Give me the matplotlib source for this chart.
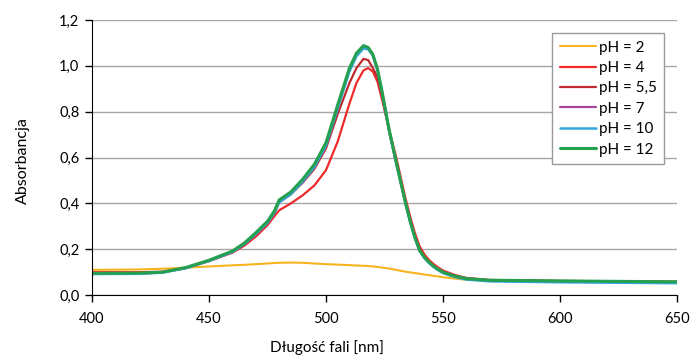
import matplotlib
matplotlib.use("Agg")
import matplotlib.pyplot as plt
from matplotlib.ticker import FuncFormatter

plt.rcParams['font.family'] = ['Lato', 'DejaVu Sans']

wavelength = [400, 420, 430, 440, 450, 460, 465, 470, 475, 478, 480, 485, 490, 495,
              500, 505, 510, 513, 516, 518, 520, 522, 524, 527, 530, 532, 534, 536,
              538, 540, 542, 544, 546, 548, 550, 555, 560, 570, 600, 650]

ph2 = [0.110, 0.112, 0.115, 0.120, 0.125, 0.130, 0.132, 0.135, 0.138, 0.140, 0.141, 0.142,
       0.141, 0.138, 0.135, 0.133, 0.131, 0.129, 0.128, 0.127, 0.125, 0.123, 0.120, 0.116,
       0.110, 0.106, 0.102, 0.099, 0.096, 0.093, 0.090, 0.087, 0.084, 0.081, 0.078, 0.072,
       0.067, 0.063, 0.060, 0.058]

ph4 = [0.100, 0.100, 0.102, 0.118, 0.148, 0.185, 0.215, 0.255, 0.305, 0.345, 0.370, 0.400,
       0.435, 0.478, 0.545, 0.670, 0.835, 0.925, 0.980, 0.990, 0.975, 0.930, 0.850, 0.720,
       0.600, 0.510, 0.420, 0.340, 0.270, 0.212, 0.178, 0.153, 0.135, 0.120, 0.107, 0.088,
       0.075, 0.066, 0.062, 0.058]

ph55 = [0.095, 0.096, 0.100, 0.118, 0.150, 0.188, 0.222, 0.265, 0.315, 0.360, 0.405, 0.440,
        0.490, 0.550, 0.640, 0.790, 0.925, 0.990, 1.030, 1.025, 0.990, 0.950, 0.870, 0.710,
        0.575, 0.487, 0.400, 0.320, 0.250, 0.196, 0.166, 0.143, 0.126, 0.112, 0.100, 0.084,
        0.073, 0.065, 0.061, 0.057]

ph7 = [0.093, 0.094, 0.099, 0.118, 0.150, 0.189, 0.224, 0.268, 0.318, 0.362, 0.410, 0.445,
       0.500, 0.563, 0.658, 0.822, 0.982, 1.048, 1.082, 1.076, 1.047, 0.982, 0.882, 0.717,
       0.577, 0.488, 0.399, 0.319, 0.249, 0.194, 0.163, 0.141, 0.124, 0.110, 0.098, 0.081,
       0.070, 0.063, 0.059, 0.055]

ph10 = [0.092, 0.093, 0.098, 0.117, 0.149, 0.188, 0.222, 0.266, 0.315, 0.360, 0.405, 0.440,
        0.495, 0.558, 0.652, 0.815, 0.975, 1.042, 1.076, 1.072, 1.045, 0.980, 0.880, 0.715,
        0.575, 0.487, 0.398, 0.318, 0.248, 0.193, 0.162, 0.140, 0.122, 0.108, 0.096, 0.079,
        0.068, 0.060, 0.056, 0.052]

ph12 = [0.095, 0.096, 0.100, 0.120, 0.152, 0.192, 0.226, 0.272, 0.322, 0.368, 0.415, 0.450,
        0.505, 0.570, 0.665, 0.830, 0.990, 1.055, 1.088, 1.080, 1.050, 0.985, 0.885, 0.720,
        0.580, 0.490, 0.400, 0.320, 0.250, 0.195, 0.165, 0.143, 0.126, 0.112, 0.100, 0.083,
        0.072, 0.065, 0.062, 0.058]

labels = ['pH = 2', 'pH = 4', 'pH = 5,5', 'pH = 7', 'pH = 10', 'pH = 12']
series = [ph2, ph4, ph55, ph7, ph10, ph12]
colors = ['#F7B41F', '#EE2A2A', '#BE2A30', '#A8479E', '#36A6DE', '#24A04E']
widths = [1.5, 1.6, 1.6, 1.6, 1.8, 2.2]

fig = plt.figure(figsize=(6.91, 3.56), dpi=100)
ax = fig.add_axes([0.133, 0.171, 0.847, 0.773])

for y, lab, c, w in zip(series, labels, colors, widths):
    ax.plot(wavelength, y, color=c, lw=w, label=lab, solid_capstyle='round',
            solid_joinstyle='round')

ax.set_xlim(400, 650)
ax.set_ylim(0, 1.2)
ax.set_xticks([400, 450, 500, 550, 600, 650])
ax.set_yticks([0, 0.2, 0.4, 0.6, 0.8, 1.0, 1.2])
ax.yaxis.set_major_formatter(FuncFormatter(lambda v, p: f"{v:.1f}".replace('.', ',')))
ax.grid(axis='y', color='#A6A6A6', lw=1)
ax.set_axisbelow(True)
for s in ['top', 'right']:
    ax.spines[s].set_visible(False)
ax.spines['left'].set_color('black')
ax.spines['bottom'].set_color('black')
ax.tick_params(axis='both', direction='out', length=5, width=1, colors='black',
               labelsize=10.5)
ax.tick_params(axis='x', pad=7)
ax.tick_params(axis='y', pad=4)

ax.set_xlabel('Długość fali [nm]', fontsize=11)
ax.set_ylabel('Absorbancja', fontsize=11.5)
ax.xaxis.set_label_coords(0.402, -0.165)
ax.yaxis.set_label_coords(-0.106, 0.49)

leg = ax.legend(loc='upper right', bbox_to_anchor=(0.978, 0.953), fontsize=11,
                frameon=True, fancybox=False, edgecolor='#9A9A9A', framealpha=1,
                handlelength=2.4, handletextpad=0.15, labelspacing=0.42,
                borderpad=0.5, borderaxespad=0)
leg.get_frame().set_linewidth(1)

fig.savefig('out.png', dpi=100)
